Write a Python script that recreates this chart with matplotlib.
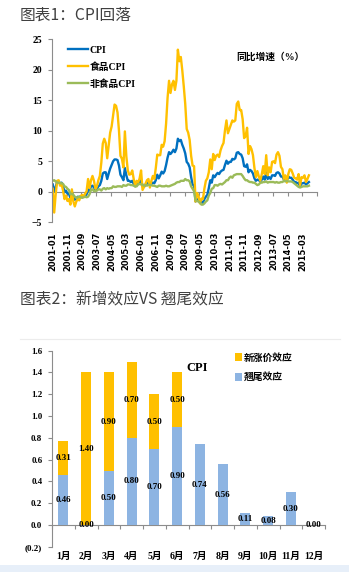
import numpy as np
import matplotlib
matplotlib.use('Agg')
import matplotlib.pyplot as plt
from matplotlib.patches import Rectangle

plt.rcParams['font.family'] = ['Liberation Serif', 'Noto Sans CJK SC']

# ---------------- 图表1 数据（2001-01 起，月度同比 %） ----------------
cpi = [1.2, 0.0, 0.8, 1.6, 1.7, 1.4, 1.5, 1.0, -0.1, 0.2, -0.3, -0.3,
       -1.0, 0.0, -0.8, -1.3, -1.1, -0.8, -0.9, -0.7, -0.7, -0.8, -0.7, -0.4,
       0.4, 0.2, 0.9, 1.0, 0.7, 0.3, 0.5, 0.9, 1.1, 1.8, 3.0, 3.2,
       3.2, 2.1, 3.0, 3.8, 4.4, 5.0, 5.3, 5.3, 5.2, 4.3, 2.8, 2.4,
       1.9, 3.9, 2.7, 1.8, 1.8, 1.6, 1.8, 1.3, 0.9, 1.2, 1.3, 1.6,
       1.9, 0.9, 0.8, 1.2, 1.4, 1.5, 1.0, 1.3, 1.5, 1.4, 1.9, 2.8,
       2.2, 2.7, 3.3, 3.0, 3.4, 4.4, 5.6, 6.5, 6.2, 6.5, 6.9, 6.5,
       7.1, 8.7, 8.3, 8.5, 7.7, 7.1, 6.3, 4.9, 4.6, 4.0, 2.4, 1.2,
       1.0, -1.6, -1.2, -1.5, -1.4, -1.7, -1.8, -1.2, -0.8, -0.5, 0.6, 1.9,
       1.5, 2.7, 2.4, 2.8, 3.1, 2.9, 3.3, 3.5, 3.6, 4.4, 5.1, 4.6,
       4.9, 4.9, 5.4, 5.3, 5.5, 6.4, 6.5, 6.2, 6.1, 5.5, 4.2, 4.1,
       4.5, 3.2, 3.6, 3.4, 3.0, 2.2, 1.8, 2.0, 1.9, 1.7, 2.0, 2.5,
       2.0, 3.2, 2.1, 2.4, 2.1, 2.7, 2.7, 2.6, 3.1, 3.2, 3.0, 2.5,
       2.5, 2.0, 2.4, 1.8, 2.5, 2.3, 2.3, 2.0, 1.6, 1.6, 1.4, 1.5,
       0.8, 1.4, 1.4, 1.5, 1.2, 1.4, 1.6]

food = [0.5, -3.4, -0.4, 1.8, 1.9, 1.0, 1.3, 0.2, -1.2, -0.6, -1.5, -1.2,
        -2.1, 0.4, -1.6, -2.4, -1.6, -1.2, -1.4, -0.7, -0.5, -0.8, -0.3, 0.1,
        2.1, 0.6, 1.9, 2.6, 1.8, 0.5, 0.9, 1.9, 2.6, 4.8, 7.9, 8.7,
        8.0, 5.5, 7.6, 9.7, 10.7, 12.5, 14.3, 14.1, 13.0, 10.0, 5.9, 5.4,
        4.0, 9.9, 5.8, 3.5, 2.8, 2.9, 3.5, 2.1, 0.9, 1.8, 1.5, 2.2,
        3.5, 0.3, 0.8, 1.3, 1.9, 2.1, 0.7, 1.8, 2.6, 2.1, 3.9, 6.1,
        6.0, 6.0, 7.7, 7.4, 8.3, 11.2, 15.4, 18.2, 16.2, 17.6, 18.2, 16.7,
        18.2, 23.3, 21.4, 22.1, 19.9, 17.3, 14.4, 10.3, 9.7, 8.5, 5.9, 4.3,
        4.2, -1.6, -0.2, -0.7, -1.9, -1.1, -1.2, 0.5, 1.8, 2.2, 3.2, 5.3,
        3.7, 6.2, 5.2, 5.9, 6.1, 5.7, 6.8, 7.5, 8.0, 10.1, 11.7, 9.6,
        10.3, 11.0, 11.7, 11.5, 11.7, 14.4, 14.8, 13.4, 13.4, 11.9, 8.8, 9.1,
        10.5, 6.2, 7.5, 7.0, 6.0, 3.9, 2.4, 3.4, 2.5, 1.8, 2.9, 4.2,
        2.9, 6.0, 2.7, 4.0, 3.2, 4.9, 5.0, 4.7, 6.1, 6.5, 5.9, 4.1,
        3.7, 2.1, 2.7, 1.5, 2.9, 3.7, 3.6, 3.0, 2.3, 2.2, 2.0, 2.9,
        1.1, 2.4, 2.3, 2.7, 1.6, 2.1, 2.7]

nonfood = [1.8, 1.9, 1.7, 1.5, 1.5, 1.4, 1.4, 1.3, 0.9, 0.8, 0.5, 0.3,
           -0.4, -0.3, -0.5, -0.8, -1.0, -0.9, -0.8, -0.9, -1.0, -0.9, -0.8, -0.9,
           -0.8, -0.4, 0.3, 0.4, 0.1, 0.1, 0.2, 0.4, 0.4, 0.2, 0.5, 0.6,
           0.4, 0.6, 0.5, 0.6, 0.6, 0.9, 0.8, 0.8, 0.9, 0.9, 0.9, 0.8,
           1.1, 1.0, 1.0, 1.2, 1.2, 1.1, 1.1, 1.0, 0.9, 0.9, 1.2, 1.3,
           1.2, 1.2, 1.0, 1.1, 1.0, 1.2, 1.1, 1.1, 1.0, 1.0, 0.9, 0.8,
           1.0, 1.0, 0.9, 0.9, 0.9, 1.0, 0.9, 0.9, 1.0, 1.1, 1.2, 1.3,
           1.5, 1.6, 1.6, 1.8, 1.8, 1.8, 2.1, 1.9, 1.9, 1.7, 0.9, 0.5,
           0.1, -1.4, -1.5, -1.6, -1.8, -2.1, -2.1, -1.9, -1.6, -1.4, -0.6, -0.2,
           0.5, 0.6, 1.1, 1.1, 1.0, 1.2, 1.3, 1.2, 1.4, 1.6, 1.9, 1.9,
           2.3, 2.5, 2.3, 2.7, 2.8, 2.9, 2.9, 2.9, 2.9, 2.6, 2.2, 1.9,
           1.9, 1.7, 1.6, 1.6, 1.5, 1.5, 1.3, 1.1, 1.2, 1.5, 1.5, 1.6,
           1.6, 1.7, 1.5, 1.6, 1.6, 1.6, 1.6, 1.5, 1.6, 1.5, 1.5, 1.6,
           1.6, 1.8, 1.7, 1.8, 1.7, 1.7, 1.7, 1.6, 1.4, 1.2, 1.0, 0.8,
           0.7, 0.8, 0.9, 0.9, 0.9, 0.9, 1.0]

n_cat = 180  # 分类轴长度（月）
months = [f"{2001 + i // 12}-{i % 12 + 1:02d}" for i in range(n_cat)]

# ---------------- 图表2 数据 ----------------
month_labels = ['1月', '2月', '3月', '4月', '5月', '6月',
                '7月', '8月', '9月', '10月', '11月', '12月']
tail_eff = [0.46, 0.00, 0.50, 0.80, 0.70, 0.90, 0.74, 0.56, 0.11, 0.08, 0.30, 0.00]
new_eff = [0.31, 1.40, 0.90, 0.70, 0.50, 0.50]

W, H = 349, 572
fig = plt.figure(figsize=(W / 100, H / 100), dpi=100)

def box(l, t, r, b):
    return [l / W, 1 - b / H, (r - l) / W, (b - t) / H]

grey = '#8c8c8c'
title_kw = dict(family=['Noto Sans CJK SC', 'DejaVu Sans'], fontsize=11.3, color='#404040')
fig.text(20 / W, 1 - 15 / H, '图表1：CPI回落', va='center', **title_kw)
fig.text(20 / W, 1 - 300 / H, '图表2：新增效应VS 翘尾效应', va='center', **title_kw)

# ---------------- 图表1 ----------------
ax1 = fig.add_axes(box(52, 39.3, 317, 222.3))
x = np.arange(len(cpi))
ax1.plot(x, cpi, color='#0070C0', lw=1.7, label='CPI')
ax1.plot(x, food, color='#FFC000', lw=1.7, label='食品CPI')
ax1.plot(x, nonfood, color='#9BBB59', lw=1.7, label='非食品CPI')
ax1.set_xlim(-0.5, n_cat - 0.5)
ax1.set_ylim(-5, 25)
ax1.set_yticks(range(-5, 26, 5))
ax1.tick_params(axis='y', length=3, color=grey, labelsize=7, pad=4)
for t in ax1.get_yticklabels():
    t.set_fontweight('bold')
lab_idx = list(range(0, 171, 10))
ax1.set_xticks(lab_idx, [months[i] for i in lab_idx], rotation=90,
               fontsize=6, fontweight='bold', family='DejaVu Sans')
ax1.tick_params(axis='x', length=0, pad=7)
for s in ['top', 'right', 'bottom']:
    ax1.spines[s].set_visible(False)
ax1.spines['left'].set_color(grey)
sec1 = ax1.secondary_xaxis(5 / 30)
sec1.set_xticks(np.arange(-0.5, n_cat, 10))
sec1.tick_params(labelbottom=False, length=3, color=grey)
sec1.spines['bottom'].set_color(grey)
ax1.legend(loc='upper left', bbox_to_anchor=(0.06, 0.965), frameon=False,
           borderaxespad=0, borderpad=0, handlelength=2.1, handletextpad=0.1,
           labelspacing=0.75, prop=dict(size=7, weight='bold'))
ax1.text(0.695, 0.905, '同比增速（%）', transform=ax1.transAxes, fontsize=7,
         fontweight='bold', va='center')

# ---------------- 图表2 ----------------
fig.add_artist(plt.Line2D([20 / W, 340 / W], [1 - 339 / H] * 2, color='#ececec', lw=0.8))
fig.add_artist(Rectangle((0, 0), 1, 7 / H, transform=fig.transFigure,
                         color='#e7eff9', lw=0))

ax2 = fig.add_axes(box(52, 350.7, 325, 546.8))
xb = np.arange(len(month_labels))
bw = 0.44
ax2.bar(xb, tail_eff, bw, color='#8DB4E2', label='翘尾效应', zorder=2)
xn = np.arange(len(new_eff))
ax2.bar(xn, new_eff, bw, bottom=tail_eff[:len(new_eff)], color='#FFC000',
        label='新涨价效应', zorder=2)
lab_kw = dict(ha='center', va='center', fontsize=6.5, fontweight='bold')
for i, v in enumerate(tail_eff):
    ax2.text(i, v / 2, f'{v:.2f}', **lab_kw)
for i, v in enumerate(new_eff):
    ax2.text(i, tail_eff[i] + v / 2, f'{v:.2f}', **lab_kw)
ax2.set_xlim(-0.5, len(month_labels) - 0.5)
ax2.set_ylim(-0.2, 1.6)
yt = np.arange(-0.2, 1.61, 0.2)
ax2.set_yticks(yt, [f'({abs(v):.1f})' if v < -1e-9 else f'{v:.1f}' for v in yt],
               fontsize=6.5, fontweight='bold')
ax2.tick_params(axis='y', length=3, color=grey, pad=4)
ax2.set_xticks(xb, month_labels, fontsize=7, fontweight='bold')
ax2.tick_params(axis='x', length=0, pad=4)
for s in ['top', 'right', 'bottom']:
    ax2.spines[s].set_visible(False)
ax2.spines['left'].set_color(grey)
sec2 = ax2.secondary_xaxis(0.2 / 1.8)
sec2.set_xticks(np.arange(-0.5, len(month_labels), 1))
sec2.tick_params(labelbottom=False, length=3, color=grey)
sec2.spines['bottom'].set_color(grey)
h, l = ax2.get_legend_handles_labels()
ax2.legend(h[::-1], l[::-1], loc='upper left', bbox_to_anchor=(0.67, 0.99),
           frameon=False, borderaxespad=0, borderpad=0, handlelength=0.7,
           handleheight=0.9, handletextpad=0.2, labelspacing=1.0,
           prop=dict(size=7, weight='bold'))
ax2.text(5.9, 1.44, 'CPI', fontsize=9, fontweight='bold', va='center', ha='center')

fig.savefig('out.png', dpi=100)
